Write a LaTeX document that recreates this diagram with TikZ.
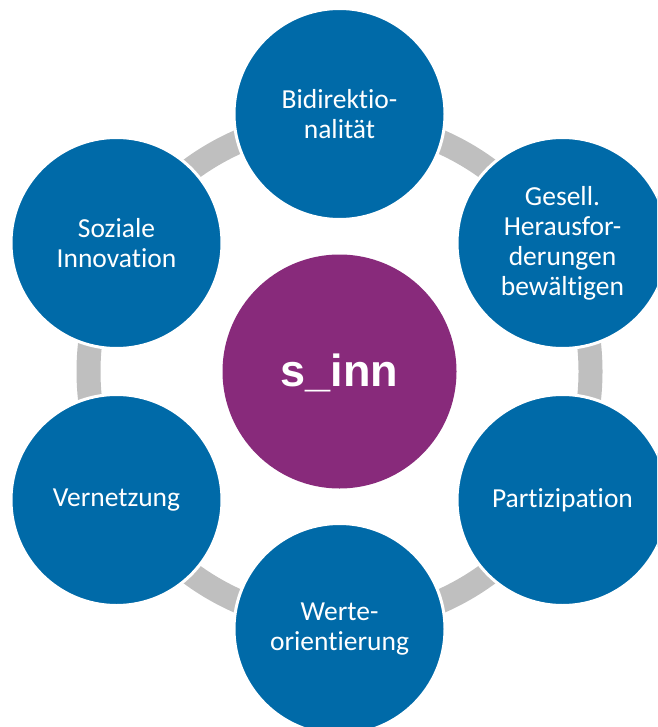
\documentclass[tikz,border=0pt]{standalone}
\usepackage{fontspec}
\setmainfont{Carlito}[Ligatures=NoCommon]
\newfontfamily\hubfont{Liberation Sans}
\usetikzlibrary{backgrounds}
\definecolor{ringblue}{RGB}{0,106,168}
\definecolor{hubpurple}{RGB}{136,42,123}
\definecolor{linkgray}{RGB}{191,191,191}
\begin{document}
\begin{tikzpicture}[x=1pt,y=-1pt,
  topic/.style={circle,fill=ringblue,draw=white,line width=3pt,
    minimum size=211pt,inner sep=0pt,align=center,text=white,
    font=\fontsize{27.5}{30}\selectfont},
  hub/.style={circle,fill=hubpurple,minimum size=234pt,inner sep=0pt},
  link/.style={draw=linkgray,line width=24pt}]
\clip (0,0) rectangle (657,727);

% central hub
\node[hub] (hub) at (339.5,371.5) {};
\node[anchor=base,text=white,font=\hubfont\bfseries\fontsize{45}{50}\selectfont]
  (hubtext) at (339.5,386) {s\_inn};

% six topics around the hub
\node[topic] (bidi) at (339.5,114) {Bidirektio-\\nalität};
\node[topic] (gesell) at (562.5,243) {Gesell.\\Herausfor-\\derungen\\bewältigen};
\node[topic] (part) at (562.5,500) {Partizipation};
\node[topic] (werte) at (339.5,629) {Werte-\\orientierung};
\node[topic] (vernetz) at (116.5,500) {Vernetzung};
\node[topic] (sozial) at (116.5,243) {Soziale\\Innovation};

% gray ring linking the topics
\begin{scope}[on background layer]
  \draw[link] (hub.center) circle (251);
\end{scope}
\end{tikzpicture}
\end{document}
